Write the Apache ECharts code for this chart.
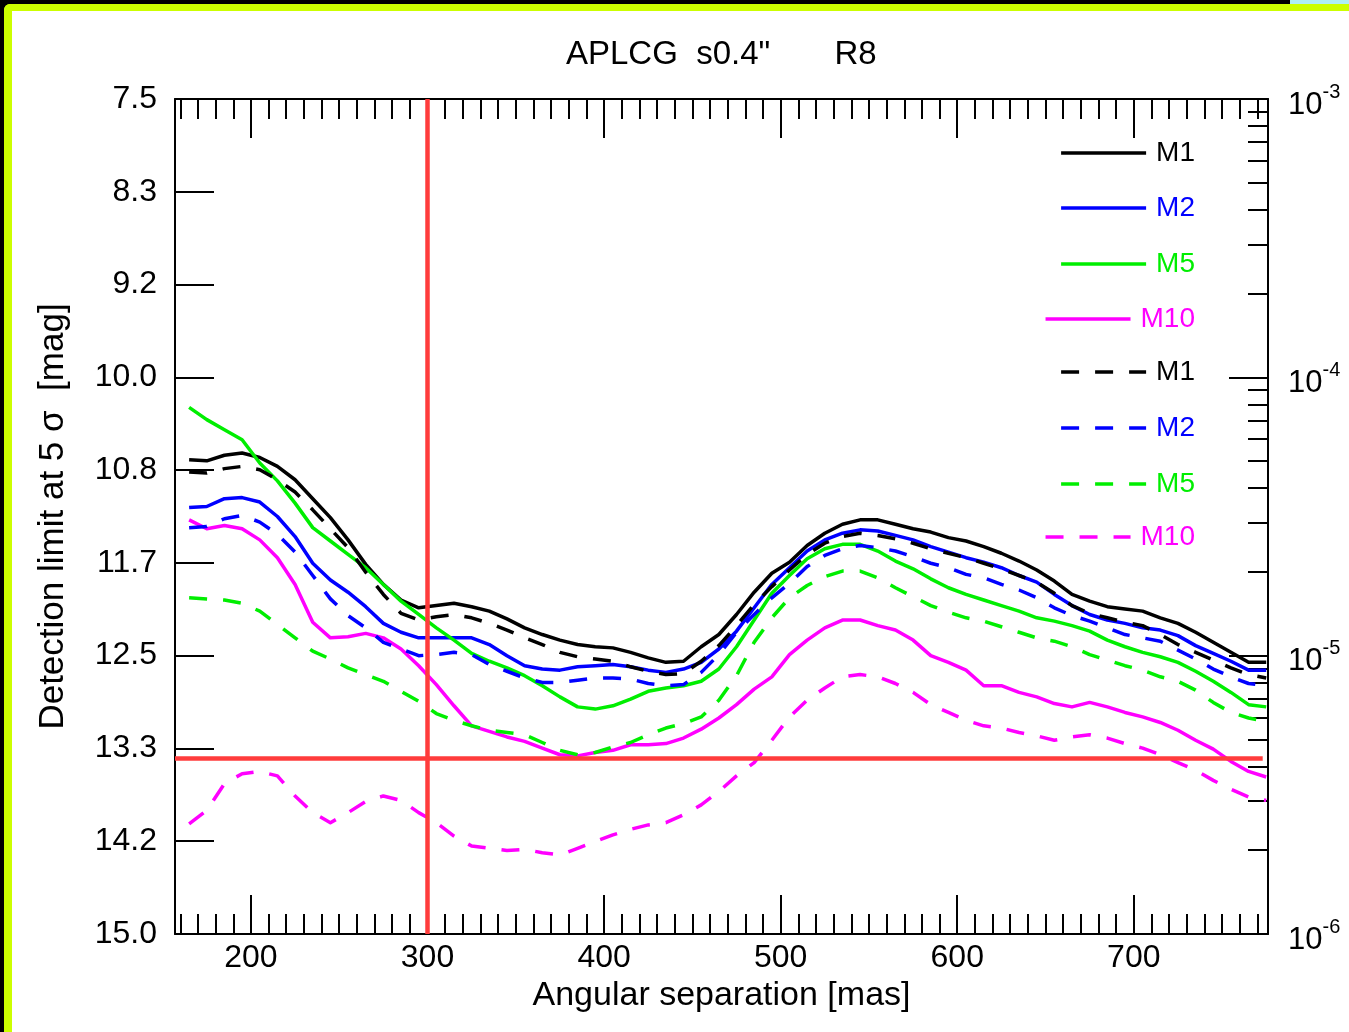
<!DOCTYPE html>
<html>
<head>
<meta charset="utf-8">
<title>APLCG s0.4" R8</title>
<script src="https://cdn.jsdelivr.net/npm/echarts@6/dist/echarts.min.js"></script>
<style>
  html, body { margin: 0; padding: 0; width: 1349px; height: 1032px; overflow: hidden; background: #000; }
  #frame { position: absolute; left: 4px; top: 4px; right: 0; bottom: 0; background: #fff;
           border-top: 7px solid #ccff00; border-left: 8px solid #ccff00; border-top-left-radius: 6px; }
  #corner { position: absolute; left: 1290px; top: 0; width: 59px; height: 4px; background: #aeeef6; }
  #chart { position: absolute; left: 0; top: 0; width: 1349px; height: 1032px; }
</style>
</head>
<body>
<div id="frame"></div>
<div id="corner"></div>
<div id="chart"></div>
<script>
// Angular separation samples [mas]
const separation = [165,175,185,195,205,215,225,235,245,255,265,275,285,295,305,315,325,335,345,355,
  365,375,385,395,405,415,425,435,445,455,465,475,485,495,505,515,525,535,545,555,
  565,575,585,595,605,615,625,635,645,655,665,675,685,695,705,715,725,735,745,755,765,775];

// 5-sigma detection limits [mag], solid curves
const m1Solid = [10.74,10.75,10.70,10.68,10.72,10.80,10.92,11.09,11.26,11.46,
  11.68,11.86,12.00,12.07,12.05,12.03,12.06,12.10,12.17,12.25,
  12.31,12.36,12.40,12.42,12.43,12.47,12.52,12.56,12.55,12.42,
  12.31,12.13,11.93,11.76,11.66,11.51,11.40,11.32,11.28,11.28,
  11.32,11.36,11.39,11.44,11.47,11.52,11.58,11.65,11.73,11.83,
  11.95,12.01,12.06,12.08,12.10,12.16,12.21,12.29,12.38,12.47,12.56,12.56];
const m2Solid = [11.17,11.16,11.09,11.08,11.12,11.25,11.43,11.67,11.82,11.93,
  12.06,12.21,12.29,12.34,12.34,12.34,12.34,12.40,12.50,12.59,
  12.62,12.63,12.60,12.59,12.58,12.60,12.63,12.65,12.62,12.56,
  12.44,12.28,12.07,11.86,11.71,11.56,11.46,11.40,11.37,11.38,
  11.42,11.46,11.52,11.57,11.62,11.66,11.71,11.78,11.84,11.95,
  12.05,12.13,12.18,12.21,12.25,12.27,12.32,12.41,12.48,12.55,12.63,12.63];
const m5Solid = [10.27,10.38,10.47,10.56,10.77,10.93,11.13,11.35,11.47,11.59,
  11.71,11.86,12.01,12.13,12.25,12.36,12.48,12.55,12.61,12.68,
  12.77,12.87,12.96,12.98,12.95,12.89,12.82,12.79,12.77,12.73,
  12.62,12.42,12.18,11.94,11.78,11.63,11.54,11.50,11.50,11.56,
  11.65,11.72,11.81,11.89,11.95,12.00,12.05,12.10,12.16,12.19,
  12.23,12.28,12.36,12.42,12.47,12.51,12.56,12.64,12.73,12.83,12.94,12.96];
const m10Solid = [11.28,11.36,11.33,11.36,11.46,11.62,11.86,12.20,12.34,12.33,
  12.30,12.34,12.44,12.59,12.76,12.95,13.13,13.18,13.23,13.27,
  13.33,13.39,13.40,13.37,13.35,13.30,13.30,13.29,13.24,13.16,
  13.06,12.94,12.80,12.69,12.49,12.36,12.25,12.18,12.18,12.23,
  12.27,12.36,12.50,12.56,12.63,12.77,12.77,12.83,12.87,12.93,
  12.96,12.92,12.96,13.01,13.05,13.10,13.17,13.26,13.34,13.45,13.54,13.59];

// 5-sigma detection limits [mag], dashed curves
const m1Dashed = [10.85,10.86,10.82,10.80,10.83,10.92,11.03,11.19,11.36,11.53,
  11.75,11.95,12.12,12.18,12.15,12.13,12.16,12.21,12.27,12.34,
  12.40,12.47,12.51,12.53,12.55,12.60,12.64,12.67,12.66,12.55,
  12.41,12.23,12.04,11.88,11.73,11.59,11.49,11.43,11.40,11.42,
  11.45,11.49,11.54,11.58,11.62,11.67,11.72,11.78,11.84,11.94,
  12.05,12.12,12.16,12.20,12.23,12.31,12.40,12.47,12.54,12.61,12.67,12.70];
const m2Dashed = [11.35,11.34,11.27,11.24,11.30,11.41,11.57,11.78,11.99,12.14,
  12.25,12.38,12.44,12.50,12.49,12.47,12.49,12.58,12.64,12.70,
  12.74,12.74,12.72,12.70,12.70,12.71,12.75,12.77,12.76,12.65,
  12.49,12.29,12.13,11.98,11.85,11.70,11.60,11.54,11.51,11.53,
  11.56,11.61,11.67,11.71,11.77,11.80,11.86,11.91,11.98,12.07,
  12.14,12.19,12.25,12.31,12.34,12.37,12.45,12.53,12.62,12.69,12.75,12.77];
const m5Dashed = [11.98,11.99,12.00,12.03,12.10,12.22,12.34,12.46,12.53,12.61,
  12.67,12.73,12.82,12.91,13.02,13.08,13.13,13.17,13.19,13.21,
  13.28,13.35,13.39,13.37,13.32,13.28,13.21,13.15,13.11,13.05,
  12.90,12.68,12.38,12.16,11.98,11.87,11.79,11.74,11.74,11.80,
  11.89,11.97,12.05,12.11,12.16,12.19,12.24,12.29,12.34,12.37,
  12.42,12.49,12.54,12.59,12.63,12.69,12.73,12.81,12.92,13.01,13.06,13.09];
const m10Dashed = [14.01,13.89,13.65,13.56,13.54,13.58,13.76,13.91,14.00,13.91,
  13.81,13.76,13.80,13.91,14.00,14.12,14.21,14.23,14.25,14.24,
  14.27,14.29,14.23,14.17,14.11,14.06,14.02,14.00,13.93,13.84,
  13.72,13.58,13.46,13.26,13.05,12.90,12.79,12.69,12.67,12.69,
  12.75,12.83,12.94,13.01,13.08,13.13,13.15,13.19,13.22,13.26,
  13.23,13.21,13.24,13.29,13.33,13.39,13.46,13.53,13.62,13.70,13.77,13.80];

// Reference limits (red lines)
const limitSeparation = 300;
const limitMag = 13.42;
const limitLineEnd = 773;

// Axis ranges and ticks
const sepMin = 157, sepMax = 776;
const sepMajorTicks = [200, 300, 400, 500, 600, 700];
const sepMinorTicks = [];
for (let v = 160; v <= 770; v += 10) sepMinorTicks.push(v);
const magMin = 7.5, magMax = 15.0, magStep = (15.0 - 7.5) / 9;
const contrastMin = 1e-6, contrastMax = 1e-3;
const contrastMinorTicks = [];
[-6, -5, -4].forEach(e => { for (let m = 2; m <= 9; m++) contrastMinorTicks.push(m * Math.pow(10, e)); });

const FONT = 'Liberation Sans';
const DASH = [18, 16];
const CURVE_WIDTH = 3.5;

const curves = [
  { name: 'M1',         label: 'M1',  values: m1Solid,   color: '#000000', dashed: false },
  { name: 'M2',         label: 'M2',  values: m2Solid,   color: '#0000ff', dashed: false },
  { name: 'M5',         label: 'M5',  values: m5Solid,   color: '#00ee00', dashed: false },
  { name: 'M10',        label: 'M10', values: m10Solid,  color: '#ff00ff', dashed: false },
  { name: 'M1 dashed',  label: 'M1',  values: m1Dashed,  color: '#000000', dashed: true },
  { name: 'M2 dashed',  label: 'M2',  values: m2Dashed,  color: '#0000ff', dashed: true },
  { name: 'M5 dashed',  label: 'M5',  values: m5Dashed,  color: '#00ee00', dashed: true },
  { name: 'M10 dashed', label: 'M10', values: m10Dashed, color: '#ff00ff', dashed: true }
];
const legendRowCenters = [153, 208, 264, 319, 372, 428, 484, 537];

const axisLine = { show: true, onZero: false, lineStyle: { color: '#000', width: 2 } };
const tickLine = { color: '#000', width: 2 };

function sepAxis(position, major) {
  const ticks = major ? sepMajorTicks : sepMinorTicks;
  const ax = {
    type: 'value', position: position, min: sepMin, max: sepMax, gridIndex: 0,
    axisLine: major ? axisLine : { show: false },
    axisTick: { show: true, inside: true, length: major ? 39 : 20, lineStyle: tickLine, customValues: ticks },
    axisLabel: { show: false },
    splitLine: { show: false }
  };
  if (major && position === 'bottom') {
    ax.axisLabel = { show: true, margin: 8, customValues: sepMajorTicks, color: '#000', fontSize: 32, fontFamily: FONT };
    ax.name = 'Angular separation [mas]';
    ax.nameLocation = 'middle';
    ax.nameGap = 41;
    ax.nameTextStyle = { color: '#000', fontSize: 34, fontFamily: FONT };
  }
  return ax;
}

const chart = echarts.init(document.getElementById('chart'), null, { renderer: 'canvas' });
chart.setOption({
  animation: false,
  backgroundColor: 'transparent',
  title: {
    text: 'APLCG  s0.4"       R8',
    left: 566, top: 38, padding: 0,
    textStyle: { color: '#000', fontSize: 33, fontWeight: 'normal', fontFamily: FONT }
  },
  grid: { left: 175, right: 81, top: 99, bottom: 98, containLabel: false, outerBoundsMode: 'none' },
  legend: curves.map((c, i) => ({
    data: [{ name: c.name, textStyle: { color: c.color } }],
    right: 154, top: legendRowCenters[i] - 14, padding: 0,
    itemWidth: 85, itemHeight: 28, selectedMode: false,
    formatter: () => c.label,
    itemStyle: { opacity: 0 },
    lineStyle: { width: CURVE_WIDTH },
    textStyle: { fontSize: 28, fontFamily: FONT, lineHeight: 28, padding: [0, 0, 0, 5] }
  })),
  xAxis: [
    sepAxis('bottom', true),
    sepAxis('bottom', false),
    sepAxis('top', true),
    sepAxis('top', false)
  ],
  yAxis: [
    {
      type: 'value', position: 'left', inverse: true, min: magMin, max: magMax, interval: magStep,
      axisLine: axisLine,
      axisTick: { show: true, inside: true, length: 39, lineStyle: tickLine },
      axisLabel: { margin: 18, color: '#000', fontSize: 32, fontFamily: FONT, formatter: v => v.toFixed(1) },
      splitLine: { show: false },
      name: 'Detection limit at 5 σ  [mag]', nameLocation: 'middle', nameGap: 104,
      nameTextStyle: { color: '#000', fontSize: 35, fontFamily: FONT }
    },
    {
      type: 'log', logBase: 10, position: 'right', min: contrastMin, max: contrastMax,
      axisLine: axisLine,
      axisTick: { show: true, inside: true, length: 39, lineStyle: tickLine },
      axisLabel: {
        margin: 20, padding: [12, 0, 0, 0],
        formatter: v => '{b|10}{s|' + Math.round(Math.log10(v)) + '}',
        rich: {
          b: { color: '#000', fontSize: 31, fontFamily: FONT, lineHeight: 46 },
          s: { color: '#000', fontSize: 20, fontFamily: FONT, lineHeight: 20, verticalAlign: 'top' }
        }
      },
      splitLine: { show: false }
    },
    {
      type: 'log', logBase: 10, position: 'right', min: contrastMin, max: contrastMax,
      axisLine: { show: false },
      axisTick: { show: true, inside: true, length: 20, lineStyle: tickLine, customValues: contrastMinorTicks },
      axisLabel: { show: false },
      splitLine: { show: false }
    }
  ],
  series: curves.map(c => ({
    name: c.name, type: 'line', xAxisIndex: 0, yAxisIndex: 0,
    data: separation.map((x, j) => [x, c.values[j]]),
    symbol: 'none', showSymbol: false, silent: true,
    lineStyle: { color: c.color, width: CURVE_WIDTH, type: c.dashed ? DASH : 'solid', cap: 'butt', join: 'round' },
    itemStyle: { color: c.color },
    emphasis: { disabled: true }
  })).concat([{
    name: 'limits', type: 'line', xAxisIndex: 0, yAxisIndex: 0, data: [], silent: true,
    markLine: {
      silent: true, symbol: ['none', 'none'], label: { show: false },
      lineStyle: { color: '#ff3c3c', width: 4.5, type: 'solid' },
      emphasis: { disabled: true },
      data: [
        { xAxis: limitSeparation },
        [{ coord: [sepMin, limitMag] }, { coord: [limitLineEnd, limitMag] }]
      ]
    }
  }])
});
</script>
</body>
</html>
